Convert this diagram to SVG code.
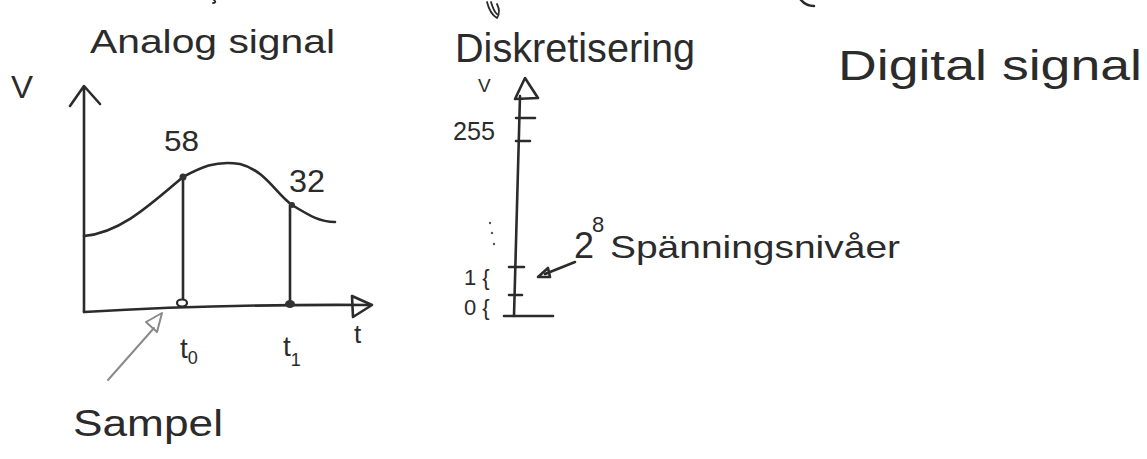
<svg xmlns="http://www.w3.org/2000/svg" width="1147" height="459" viewBox="0 0 1147 459">
<style>
.ink{fill:none;stroke:#2b2b2b;stroke-width:2.6;stroke-linecap:round;stroke-linejoin:round}
.thin{fill:none;stroke:#2b2b2b;stroke-width:1.8;stroke-linecap:round;stroke-linejoin:round}
.gray{fill:none;stroke:#8a8a8a;stroke-width:2;stroke-linecap:round;stroke-linejoin:round}
.t{font-family:"Liberation Sans",Arial,sans-serif;fill:#2b2b2b}
</style>
<rect width="1147" height="459" fill="#ffffff"/>
<g id="fragments">
<path class="thin" d="M214,0 Q217,3 213,3"/>
<path class="thin" d="M487,2 Q490,14 497,18 Q501,12 497,4 M491,2 Q494,12 497,14"/>
<path class="ink" d="M801,0 Q806,6 814,6"/>
</g>
<g id="analog">
<text class="t" x="90" y="53" font-size="34" textLength="245" lengthAdjust="spacingAndGlyphs">Analog signal</text>
<text class="t" x="11" y="98" font-size="32" textLength="22" lengthAdjust="spacingAndGlyphs">V</text>
<path class="ink" d="M84,312 L84,88 M70,106 L84,86 L100,104"/>
<path class="ink" d="M84,312 Q220,304 370,305"/>
<path class="ink" d="M352,296 L372,305 L353,317 Z"/>
<path class="ink" d="M84,236 C120,233 150,205 183,177 C200,168 215,160 240,164 C265,170 277,195 292,205 C310,216 320,222 335,222"/>
<path class="ink" d="M183,178 L183,303 M290,205 L290,304"/>
<ellipse cx="182" cy="303" rx="5" ry="3.5" fill="#fff" stroke="#2b2b2b" stroke-width="2.2"/>
<ellipse cx="290" cy="304" rx="5" ry="4" fill="#333"/>
<circle cx="183" cy="177" r="3.5" fill="#333"/>
<circle cx="292" cy="205" r="3" fill="#333"/>
<text class="t" x="164" y="151" font-size="30" textLength="35" lengthAdjust="spacingAndGlyphs">58</text>
<text class="t" x="289" y="192" font-size="32" textLength="36" lengthAdjust="spacingAndGlyphs">32</text>
<text class="t" x="354" y="343" font-size="26">t</text>
<text class="t" x="180" y="358" font-size="28">t<tspan font-size="18" dy="6">0</tspan></text>
<text class="t" x="283" y="356" font-size="28">t<tspan font-size="18" dy="10">1</tspan></text>
<path class="gray" d="M108,380 L154,328"/>
<path class="gray" stroke-width="2.4" d="M146,322 L162,313 L157,332 Z"/>
<text class="t" x="73" y="436" font-size="36" textLength="150" lengthAdjust="spacingAndGlyphs">Sampel</text>
</g>
<g id="diskret">
<text class="t" x="455" y="62" font-size="40" textLength="240" lengthAdjust="spacingAndGlyphs">Diskretisering</text>
<text class="t" x="478" y="92" font-size="19">V</text>
<path class="ink" d="M520,96 L514,316"/>
<path class="ink" d="M525,78 L515,99 L538,98 Z"/>
<path class="ink" d="M516,118 L535,118 M516,141 L530,141 M509,267 L524,267 M509,295 L522,295"/>
<path class="ink" stroke-width="3.4" d="M504,316 L553,316"/>
<text class="t" x="453" y="140" font-size="26" textLength="42" lengthAdjust="spacingAndGlyphs">255</text>
<circle cx="490" cy="223" r="1.2" fill="#555"/>
<circle cx="492" cy="233" r="1.2" fill="#555"/>
<circle cx="494" cy="244" r="1.2" fill="#555"/>
<text class="t" x="464" y="285" font-size="22">1 {</text>
<text class="t" x="464" y="315" font-size="22">0 {</text>
<path class="ink" d="M575,262 L545,274"/>
<path class="ink" fill="#2b2b2b" d="M538,277 L548,268 L550,277 Z"/>
<text class="t" x="574" y="258" font-size="36" textLength="20" lengthAdjust="spacingAndGlyphs">2</text>
<text class="t" x="592" y="232" font-size="22">8</text>
<text class="t" x="610" y="258" font-size="32" textLength="290" lengthAdjust="spacingAndGlyphs">Spänningsnivåer</text>
</g>
<g id="digital">
<text class="t" x="838" y="80" font-size="42" textLength="304" lengthAdjust="spacingAndGlyphs">Digital signal</text>
</g>
</svg>
